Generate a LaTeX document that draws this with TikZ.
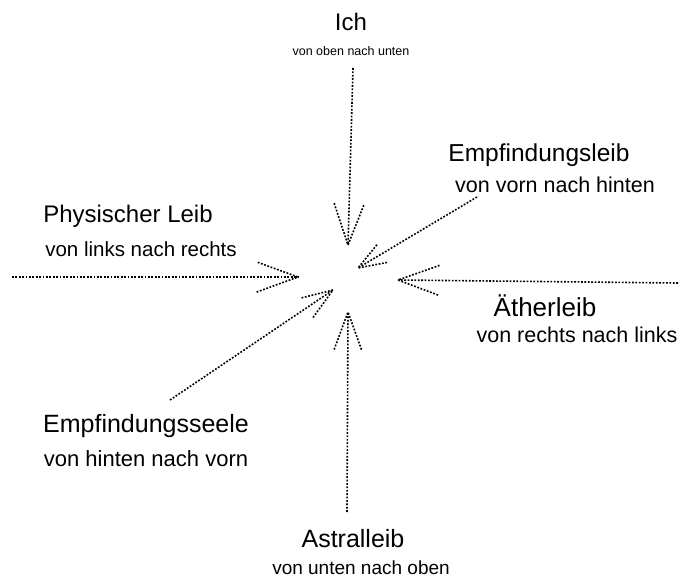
\documentclass[tikz,border=0pt]{standalone}
\usepackage{fontspec}
\setmainfont{Liberation Sans}
\usepackage{tikz}
\usetikzlibrary{calc}
\usetikzlibrary{arrows.meta}
\tikzset{punktiert/.style={line width=1.6pt, dash pattern=on 1.8pt off 1.6pt, line cap=butt}}
\newcommand{\pfeilpunkt}[2] {\coordinate (#1) at (#2);}
\newcommand{\leibname}[4] {\node at (#1) (#2) [inner sep=0pt, font=\fontsize{#3}{#3}\selectfont] {#4};}
\newcommand{\richtung}[4] {\node at (#1) (#2) [inner sep=0pt, font=\fontsize{#3}{#3}\selectfont] {#4};}
\newcommand{\leibpfeil}[3] {\draw [punktiert] (#1) -- (#2); \draw [punktiert] ($(#2)!#3!20:(#1)$) -- (#2) -- ($(#2)!#3!-20:(#1)$);}

\begin{document}
\begin{tikzpicture}[x=1pt, y=-1pt]
\useasboundingbox (0,0) rectangle (680,580);

\leibname {351,22} {ich} {24} {Ich};
\richtung {351,51} {ichdir} {12.5} {von oben nach unten};
\leibname {539,155} {empfleib} {24.5} {Empfindungsleib};
\richtung {555,185} {empfleibdir} {21.5} {von vorn nach hinten};
\leibname {128,216} {physleib} {24} {Physischer Leib};
\richtung {141,249} {physleibdir} {20.5} {von links nach rechts};
\leibname {545,306} {aetherleib} {26} {Ätherleib};
\richtung {577,335} {aetherleibdir} {21.5} {von rechts nach links};
\leibname {146,426} {empfseele} {25} {Empfindungsseele};
\richtung {146,459} {empfseeledir} {22} {von hinten nach vorn};
\leibname {353,539} {astralleib} {25} {Astralleib};
\richtung {361,568} {astralleibdir} {19} {von unten nach oben};

\pfeilpunkt {ichA} {353,68};      \pfeilpunkt {ichB} {348,245};
\pfeilpunkt {empfleibA} {477,197}; \pfeilpunkt {empfleibB} {358,268};
\pfeilpunkt {physleibA} {12,277};  \pfeilpunkt {physleibB} {298,277};
\pfeilpunkt {aetherleibA} {678,283}; \pfeilpunkt {aetherleibB} {398,280};
\pfeilpunkt {empfseeleA} {170,400}; \pfeilpunkt {empfseeleB} {333,290};
\pfeilpunkt {astralleibA} {347,512}; \pfeilpunkt {astralleibB} {348,312};

\leibpfeil{ichA}{ichB}{44pt};
\leibpfeil{empfleibA}{empfleibB}{30pt};
\leibpfeil{physleibA}{physleibB}{44pt};
\leibpfeil{aetherleibA}{aetherleibB}{44pt};
\leibpfeil{empfseeleA}{empfseeleB}{34pt};
\leibpfeil{astralleibA}{astralleibB}{40pt};
\end{tikzpicture}
\end{document}
